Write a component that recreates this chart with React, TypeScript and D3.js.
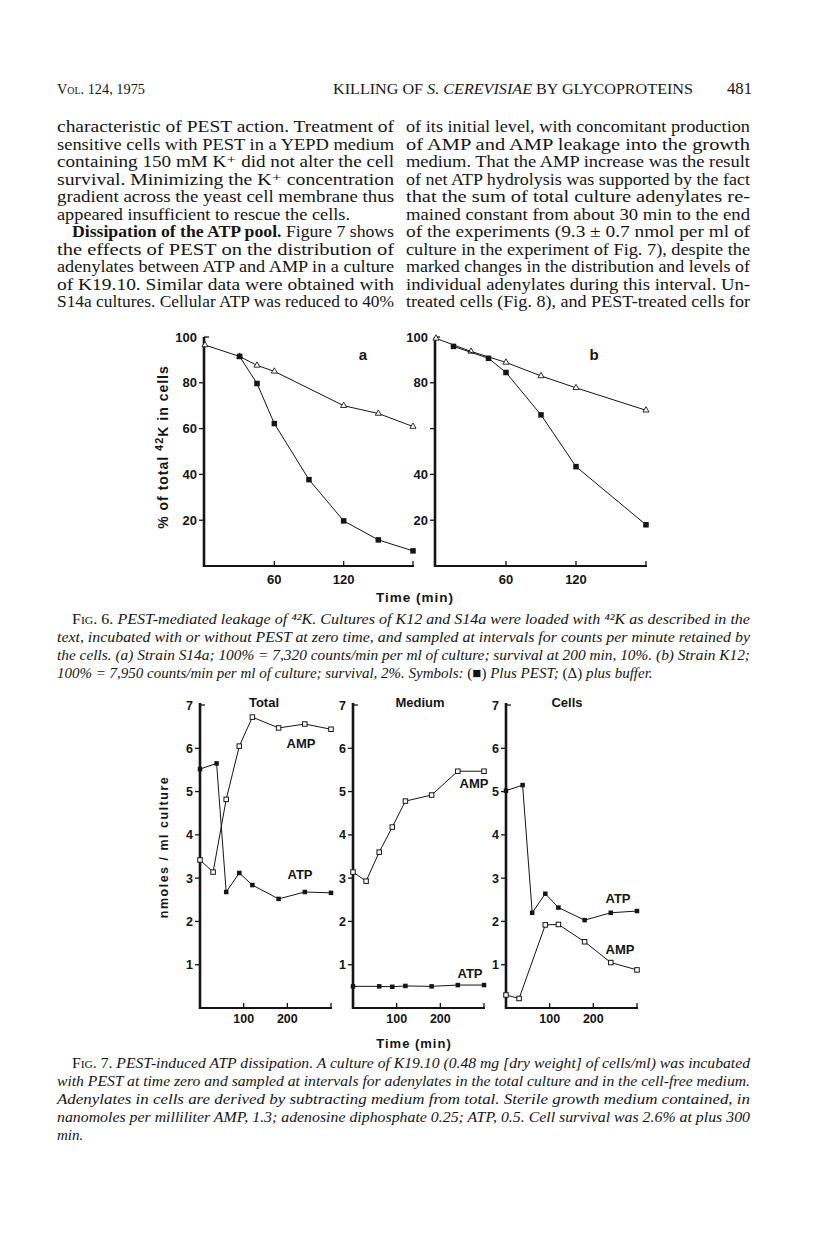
import React from 'react';
import * as d3 from 'd3';

// ---------- Data ----------
// Fig 6a (strain S14a)
const fig6aBufferT = [0, 30, 45, 60, 120, 150, 180];
const fig6aBufferV = [96.5, 91.5, 87.6, 85, 70, 66.6, 60.9];
const fig6aPestT = [30, 45, 60, 90, 120, 150, 180];
const fig6aPestV = [91.5, 79.7, 62.2, 37.7, 19.7, 11.4, 6.6];
// Fig 6b (strain K12)
const fig6bBufferT = [0, 30, 60, 90, 120, 180];
const fig6bBufferV = [99.4, 93.7, 88.9, 83, 77.8, 68];
const fig6bPestT = [15, 45, 60, 90, 120, 180];
const fig6bPestV = [95.9, 90.7, 84.5, 66, 43.4, 18];
const fig6YTicks = [20, 40, 60, 80, 100];
const fig6XTicks = [60, 120, 180];

// Fig 7
const totalAtpT = [0, 38, 60, 90, 120, 180, 240, 300];
const totalAtpV = [5.52, 5.65, 2.68, 3.12, 2.84, 2.52, 2.68, 2.66];
const totalAmpT = [0, 30, 60, 90, 120, 180, 240, 300];
const totalAmpV = [3.42, 3.14, 4.82, 6.05, 6.72, 6.47, 6.56, 6.44];
const mediumAmpT = [0, 30, 60, 90, 120, 180, 240, 300];
const mediumAmpV = [3.14, 2.93, 3.6, 4.18, 4.78, 4.92, 5.47, 5.47];
const mediumAtpT = [0, 60, 90, 120, 180, 240, 300];
const mediumAtpV = [0.5, 0.5, 0.49, 0.51, 0.5, 0.53, 0.53];
const cellsAtpT = [0, 38, 60, 90, 120, 180, 240, 300];
const cellsAtpV = [5.02, 5.15, 2.2, 2.64, 2.32, 2.03, 2.2, 2.24];
const cellsAmpT = [0, 30, 90, 120, 180, 240, 300];
const cellsAmpV = [0.3, 0.22, 1.92, 1.93, 1.53, 1.05, 0.88];
const fig7YTicks = [1, 2, 3, 4, 5, 6, 7];
const fig7XTicks = [100, 200, 300];
const fig7Panels = ['Total', 'Medium', 'Cells'];

// ---------- Text ----------
type Line = { t: React.ReactNode; w?: number; indent?: boolean };
const leftCol: Line[] = [
  { t: 'characteristic of PEST action. Treatment of' },
  { t: 'sensitive cells with PEST in a YEPD medium' },
  { t: 'containing 150 mM K\u207A did not alter the cell' },
  { t: 'survival. Minimizing the K\u207A concentration' },
  { t: 'gradient across the yeast cell membrane thus' },
  { t: 'appeared insufficient to rescue the cells.', w: 293 },
  { t: <><tspan fontWeight="bold">Dissipation of the ATP pool.</tspan> Figure 7 shows</>, indent: true },
  { t: 'the effects of PEST on the distribution of' },
  { t: 'adenylates between ATP and AMP in a culture' },
  { t: 'of K19.10. Similar data were obtained with' },
  { t: 'S14a cultures. Cellular ATP was reduced to 40%' },
];
const rightCol: string[] = [
  'of its initial level, with concomitant production',
  'of AMP and AMP leakage into the growth',
  'medium. That the AMP increase was the result',
  'of net ATP hydrolysis was supported by the fact',
  'that the sum of total culture adenylates re-',
  'mained constant from about 30 min to the end',
  'of the experiments (9.3 \u00B1 0.7 nmol per ml of',
  'culture in the experiment of Fig. 7), despite the',
  'marked changes in the distribution and levels of',
  'individual adenylates during this interval. Un-',
  'treated cells (Fig. 8), and PEST-treated cells for',
];

const sc = { fontVariant: 'small-caps' as const };

const cap6: Line[] = [
  { t: <><tspan fontStyle="normal" style={sc}>Fig. 6.</tspan> PEST-mediated leakage of {'\u2074\u00B2'}K. Cultures of K12 and S14a were loaded with {'\u2074\u00B2'}K as described in the</>, indent: true },
  { t: 'text, incubated with or without PEST at zero time, and sampled at intervals for counts per minute retained by' },
  { t: 'the cells. (a) Strain S14a; 100% = 7,320 counts/min per ml of culture; survival at 200 min, 10%. (b) Strain K12;' },
  { t: <>100% = 7,950 counts/min per ml of culture; survival, 2%. Symbols: <tspan fontStyle="normal">({'\u25A0'})</tspan> Plus PEST; <tspan fontStyle="normal">({'\u0394'})</tspan> plus buffer.</>, w: 0 },
];
const cap7: Line[] = [
  { t: <><tspan fontStyle="normal" style={sc}>Fig. 7.</tspan> PEST-induced ATP dissipation. A culture of K19.10 (0.48 mg [dry weight] of cells/ml) was incubated</>, indent: true },
  { t: 'with PEST at time zero and sampled at intervals for adenylates in the total culture and in the cell-free medium.' },
  { t: 'Adenylates in cells are derived by subtracting medium from total. Sterile growth medium contained, in' },
  { t: 'nanomoles per milliliter AMP, 1.3; adenosine diphosphate 0.25; ATP, 0.5. Cell survival was 2.6% at plus 300' },
  { t: 'min.', w: 0 },
];

const SERIF = '"Liberation Serif", "DejaVu Serif", serif';
const SANS = '"Liberation Sans", Arial, sans-serif';
const INK = '#151515';

const zip = (t: number[], v: number[]) => t.map((d, i) => [d, v[i]] as [number, number]);

function Series({ pts, x, y, kind, size = 5 }: { pts: [number, number][]; x: any; y: any; kind: 'fsq' | 'osq' | 'tri'; size?: number }) {
  const line = d3.line<[number, number]>().x(d => x(d[0])).y(d => y(d[1]));
  const tri = d3.symbol().type(d3.symbolTriangle).size(size * size * 0.45)();
  return (
    <g>
      <path d={line(pts) || ''} fill="none" stroke={INK} strokeWidth={1} />
      {pts.map((d, i) => {
        const cx = x(d[0]), cy = y(d[1]);
        if (kind === 'tri') return <path key={i} d={tri || ''} transform={`translate(${cx},${cy})`} fill="#fff" stroke={INK} strokeWidth={0.9} />;
        if (kind === 'fsq') return <rect key={i} x={cx - size / 2} y={cy - size / 2} width={size} height={size} fill={INK} />;
        return <rect key={i} x={cx - size / 2} y={cy - size / 2} width={size} height={size} fill="#fff" stroke={INK} strokeWidth={1} />;
      })}
    </g>
  );
}

function TextBlock({ lines, x, width, y0, dy, size, italic, indent }: { lines: Line[]; x: number; width: number; y0: number; dy: number; size: number; italic?: boolean; indent: number }) {
  return (
    <g fontFamily={SERIF} fontSize={size} fill={INK} fontStyle={italic ? 'italic' : 'normal'}>
      {lines.map((l, i) => {
        const ix = l.indent ? indent : 0;
        const w = l.w === undefined ? width - ix : l.w;
        return (
          <text key={i} x={x + ix} y={y0 + i * dy} {...(w > 0 ? { textLength: w, lengthAdjust: 'spacingAndGlyphs' } : {})}>
            {l.t}
          </text>
        );
      })}
    </g>
  );
}

export default function App() {
  // Fig 6 scales
  const y6 = d3.scaleLinear().domain([0, 100]).range([566, 337]);
  const x6a = d3.scaleLinear().domain([0, 180]).range([205, 413]);
  const x6b = d3.scaleLinear().domain([0, 180]).range([436, 646]);
  const panels6 = [
    { x: x6a, ax: 204, buf: zip(fig6aBufferT, fig6aBufferV), pest: zip(fig6aPestT, fig6aPestV), letter: 'a', lx: 363, labels: [20, 40, 60, 80, 100] },
    { x: x6b, ax: 435, buf: zip(fig6bBufferT, fig6bBufferV), pest: zip(fig6bPestT, fig6bPestV), letter: 'b', lx: 594, labels: [20, 40, 80, 100] },
  ];

  // Fig 7 scales
  const y7 = d3.scaleLinear().domain([0, 7]).range([1008, 705]);
  const x0s = [200, 353, 506];
  const x7 = x0s.map(x0 => d3.scaleLinear().domain([0, 300]).range([x0, x0 + 131]));
  const series7 = [
    [{ pts: zip(totalAtpT, totalAtpV), k: 'fsq' }, { pts: zip(totalAmpT, totalAmpV), k: 'osq' }],
    [{ pts: zip(mediumAmpT, mediumAmpV), k: 'osq' }, { pts: zip(mediumAtpT, mediumAtpV), k: 'fsq' }],
    [{ pts: zip(cellsAtpT, cellsAtpV), k: 'fsq' }, { pts: zip(cellsAmpT, cellsAmpV), k: 'osq' }],
  ];
  const titleX = [264, 420, 567];
  const seriesLabels = [
    [{ t: 'AMP', x: 301, y: 748 }, { t: 'ATP', x: 300, y: 879 }],
    [{ t: 'AMP', x: 474, y: 788 }, { t: 'ATP', x: 470, y: 978 }],
    [{ t: 'ATP', x: 618, y: 903 }, { t: 'AMP', x: 620, y: 954 }],
  ];

  return (
    <svg width={816} height={1235} viewBox="0 0 816 1235" style={{ position: 'absolute', left: 0, top: 0, display: 'block', background: '#fff' }}>
      <rect width={816} height={1235} fill="#fff" />
      {/* Header */}
      <g fontFamily={SERIF} fill={INK}>
        <text x={57} y={94} fontSize={14.5} style={sc} textLength={88} lengthAdjust="spacingAndGlyphs">Vol. 124, 1975</text>
        <text x={333} y={94} fontSize={14.5} textLength={360} lengthAdjust="spacingAndGlyphs">KILLING OF <tspan fontStyle="italic">S. CEREVISIAE</tspan> BY GLYCOPROTEINS</text>
        <text x={727} y={94} fontSize={17} textLength={25} lengthAdjust="spacingAndGlyphs">481</text>
      </g>

      {/* Body text */}
      <TextBlock lines={leftCol} x={57} width={337} y0={132} dy={17.5} size={16.5} indent={15} />
      <TextBlock lines={rightCol.map(t => ({ t }))} x={406} width={344} y0={132} dy={17.5} size={16.5} indent={0} />

      {/* Fig 6 */}
      <g>
        {panels6.map((p, pi) => (
          <g key={pi}>
            <line x1={p.ax} x2={p.ax} y1={y6(0) + 1} y2={y6(100)} stroke={INK} strokeWidth={2.6} />
            <line x1={p.ax - 1} x2={p.x(180) + 1} y1={y6(0)} y2={y6(0)} stroke={INK} strokeWidth={2} />
            {fig6YTicks.map(t => (
              <line key={t} x1={t === 100 ? p.ax : p.ax - 5} x2={t === 100 ? p.ax + 5 : p.ax} y1={y6(t)} y2={y6(t)} stroke={INK} strokeWidth={1.3} />
            ))}
            {fig6XTicks.map(t => (
              <line key={t} x1={p.x(t)} x2={p.x(t)} y1={y6(0)} y2={y6(0) - 5} stroke={INK} strokeWidth={1.3} />
            ))}
            <g fontFamily={SANS} fontWeight="bold" fontSize={13} fill={INK}>
              {p.labels.map(t => (
                <text key={t} x={p.ax - 7} y={y6(t) + 4.5} textAnchor="end">{t}</text>
              ))}
              {fig6XTicks.filter(t => t < 180).map(t => (
                <text key={t} x={p.x(t)} y={584} textAnchor="middle">{t}</text>
              ))}
              <text x={p.lx} y={360} fontSize={15} textAnchor="middle">{p.letter}</text>
            </g>
            <Series pts={p.buf} x={p.x} y={y6} kind="tri" size={6} />
            <Series pts={p.pest} x={p.x} y={y6} kind="fsq" size={5.5} />
          </g>
        ))}
        <text x={415} y={602} fontFamily={SANS} fontWeight="bold" fontSize={13.5} textAnchor="middle" letterSpacing={1} fill={INK}>Time (min)</text>
        <text transform={`translate(168,447) rotate(-90)`} fontFamily={SANS} fontWeight="bold" fontSize={14} textAnchor="middle" letterSpacing={1} fill={INK}>
          % of total <tspan dy={-5} fontSize={11}>42</tspan><tspan dy={5}>K in cells</tspan>
        </text>
      </g>

      <TextBlock lines={cap6} x={57} width={693} y0={624} dy={18} size={15} italic indent={15} />

      {/* Fig 7 */}
      <g>
        {fig7Panels.map((name, pi) => {
          const x = x7[pi];
          const ax = x0s[pi];
          return (
            <g key={name}>
              <line x1={ax} x2={ax} y1={y7(0) + 1} y2={y7(7) - 2} stroke={INK} strokeWidth={2.6} />
              <line x1={ax - 1} x2={x(300) + 1} y1={y7(0)} y2={y7(0)} stroke={INK} strokeWidth={2} />
              {fig7YTicks.map(t => (
                <line key={t} x1={t === 7 ? ax : ax - 5} x2={t === 7 ? ax + 5 : ax} y1={y7(t)} y2={y7(t)} stroke={INK} strokeWidth={1.3} />
              ))}
              {fig7XTicks.map(t => (
                <line key={t} x1={x(t)} x2={x(t)} y1={y7(0)} y2={y7(0) - 5} stroke={INK} strokeWidth={1.3} />
              ))}
              <g fontFamily={SANS} fontWeight="bold" fontSize={12.5} fill={INK}>
                {fig7YTicks.map(t => (
                  <text key={t} x={ax - 7} y={y7(t) + 4.5} textAnchor="end">{t}</text>
                ))}
                {fig7XTicks.filter(t => t < 300).map(t => (
                  <text key={t} x={x(t)} y={1023} textAnchor="middle">{t}</text>
                ))}
                <text x={titleX[pi]} y={707} textAnchor="middle" fontSize={13}>{name}</text>
                {seriesLabels[pi].map((l, i) => (
                  <text key={i} x={l.x} y={l.y} textAnchor="middle" fontSize={13}>{l.t}</text>
                ))}
              </g>
              {series7[pi].map((s, i) => (
                <Series key={i} pts={s.pts} x={x} y={y7} kind={s.k as any} size={4.5} />
              ))}
            </g>
          );
        })}
        <text x={414} y={1048} fontFamily={SANS} fontWeight="bold" fontSize={13} textAnchor="middle" letterSpacing={1} fill={INK}>Time (min)</text>
        <text transform={`translate(168,847) rotate(-90)`} fontFamily={SANS} fontWeight="bold" fontSize={12.5} textAnchor="middle" letterSpacing={1.5} fill={INK}>nmoles / ml culture</text>
      </g>

      <TextBlock lines={cap7} x={57} width={693} y0={1068} dy={18} size={15} italic indent={15} />
    </svg>
  );
}
